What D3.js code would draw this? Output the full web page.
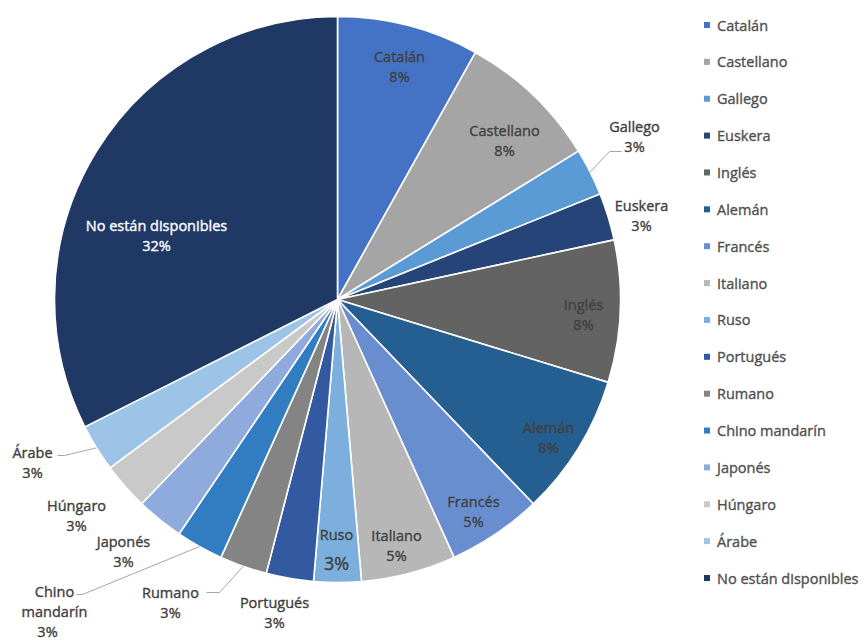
<!DOCTYPE html>
<html>
<head>
<meta charset="utf-8">
<script src="https://cdn.jsdelivr.net/npm/d3@7"></script>
<style>
  html, body { margin: 0; padding: 0; background: #fff; }
  svg { display: block; font-family: "Open Sans", "Noto Sans", sans-serif; }
  text { stroke-width: 0.35px; }
</style>
</head>
<body>
<svg id="chart" width="866" height="642"></svg>
<script>
// Languages and the number of items in each
const categories = [
  "Catalán", "Castellano", "Gallego", "Euskera", "Inglés", "Alemán",
  "Francés", "Italiano", "Ruso", "Portugués", "Rumano", "Chino mandarín",
  "Japonés", "Húngaro", "Árabe", "No están disponibles"
];
const counts = [3, 3, 1, 1, 3, 3, 2, 2, 1, 1, 1, 1, 1, 1, 1, 12];
const colors = [
  "#4472C4", "#A5A5A5", "#5B9BD5", "#264478", "#636363", "#255E91",
  "#698ED0", "#B7B7B7", "#7CAFDD", "#335AA1", "#848484", "#327DC2",
  "#8FAADC", "#C9C9C9", "#9DC3E6", "#203864"
];

const svg = d3.select("#chart");
const cx = 337.5, cy = 299.5, R = 283;
const total = d3.sum(counts);
const pct = d3.format(".0%");

const data = categories.map((name, i) => ({ name, value: counts[i], color: colors[i] }));

const pie = d3.pie().value(d => d.value).sort(null);
const arcs = pie(data);
const arc = d3.arc().innerRadius(0).outerRadius(R);

const g = svg.append("g").attr("transform", `translate(${cx},${cy})`);

g.selectAll("path.slice")
  .data(arcs)
  .enter().append("path")
  .attr("class", "slice")
  .attr("d", arc)
  .attr("fill", d => d.data.color)
  .attr("stroke", "#fff")
  .attr("stroke-width", 1.6)
  .attr("stroke-linejoin", "round");

// Label placement, relative to the pie centre (dx, dy of the first text line).
// lines: split label text; leader: bend point and end of leader line (relative).
const labelSpots = {
  "Catalán":        { dx: 62,  dy: -243 },
  "Castellano":     { dx: 167, dy: -169 },
  "Gallego":        { dx: 297, dy: -173, leader: [[272, -148], [284, -148]] },
  "Euskera":        { dx: 304, dy: -94 },
  "Inglés":         { dx: 246, dy: 5 },
  "Alemán":         { dx: 211, dy: 128 },
  "Francés":        { dx: 136, dy: 202 },
  "Italiano":       { dx: 59,  dy: 236 },
  "Ruso":           { dx: -1,  dy: 235, bigPct: true },
  "Portugués":      { dx: -63, dy: 303 },
  "Rumano":         { dx: -167, dy: 293, leader: [[-118, 293], [-131, 293]] },
  "Chino mandarín": { dx: -283, dy: 292, lines: ["Chino", "mandarín"], pctDx: -7, leader: [[-255, 295], [-261, 295]] },
  "Japonés":        { dx: -214, dy: 242 },
  "Húngaro":        { dx: -261, dy: 206 },
  "Árabe":          { dx: -305, dy: 153, leader: [[-273, 156], [-280, 156]] },
  "No están disponibles": { dx: -181, dy: -74, white: true }
};

const labelG = g.append("g");
arcs.forEach(a => {
  const name = a.data.name;
  const spot = labelSpots[name];
  const share = a.data.value / total;
  const mid = (a.startAngle + a.endAngle) / 2;

  if (spot.leader) {
    const edge = [R * Math.sin(mid), -R * Math.cos(mid)];
    const pts = [edge].concat(spot.leader);
    labelG.append("path")
      .attr("d", d3.line()(pts))
      .attr("fill", "none")
      .attr("stroke", "#A6A6A6")
      .attr("stroke-width", 1);
  }

  const lines = spot.lines || [name];
  const fill = spot.white ? "#ffffff" : "#404040";
  const t = labelG.append("text")
    .attr("text-anchor", "middle")
    .attr("fill", fill)
    .attr("stroke", fill)
    .attr("font-size", 14.5);
  lines.forEach((ln, i) => {
    t.append("tspan")
      .attr("x", spot.dx)
      .attr("y", spot.dy + i * 20)
      .attr("dominant-baseline", "central")
      .text(ln);
  });
  labelG.append("text")
    .attr("text-anchor", "middle")
    .attr("fill", fill)
    .attr("stroke", fill)
    .attr("font-size", spot.bigPct ? 18 : 14.5)
    .attr("x", spot.dx + (spot.pctDx || 0))
    .attr("y", spot.dy + lines.length * 20 + (spot.bigPct ? 8 : 0))
    .attr("dominant-baseline", "central")
    .text(pct(share));
});

// Legend
const legendY = d3.scalePoint().domain(categories).range([25, 578]);
const legend = svg.append("g");
const rows = legend.selectAll("g.row")
  .data(data)
  .enter().append("g")
  .attr("class", "row")
  .attr("transform", d => `translate(704,${legendY(d.name)})`);
rows.append("rect")
  .attr("x", 0).attr("y", -3)
  .attr("width", 6).attr("height", 6)
  .attr("fill", d => d.color);
rows.append("text")
  .attr("x", 13)
  .attr("y", 0)
  .attr("dominant-baseline", "central")
  .attr("font-size", 14.5)
  .attr("fill", "#505050")
  .attr("stroke", "#505050")
  .text(d => d.name);
</script>
</body>
</html>
